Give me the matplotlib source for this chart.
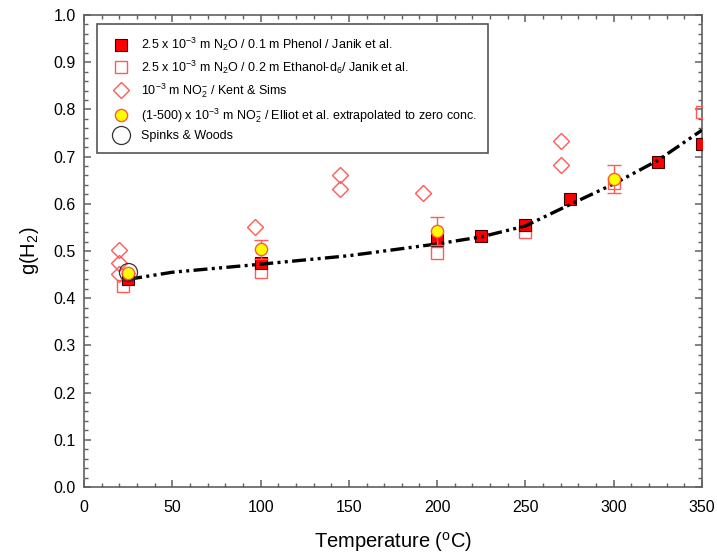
import matplotlib
matplotlib.use("Agg")
import matplotlib.pyplot as plt
from matplotlib.lines import Line2D
from matplotlib.ticker import MultipleLocator

plt.rcParams['font.family'] = ['Liberation Sans', 'DejaVu Sans']
plt.rcParams['mathtext.fontset'] = 'custom'
plt.rcParams['mathtext.rm'] = 'Liberation Sans'
plt.rcParams['mathtext.it'] = 'Liberation Sans:italic'
plt.rcParams['mathtext.default'] = 'regular'

# Janik et al., phenol
phenol_T = [25, 100, 200, 225, 250, 275, 325, 350]
phenol_g = [0.44, 0.474, 0.523, 0.532, 0.555, 0.610, 0.688, 0.727]

# Janik et al., ethanol-d6
ethanol_T = [22, 100, 200, 250, 300, 350]
ethanol_g = [0.426, 0.456, 0.496, 0.540, 0.645, 0.794]

# Kent & Sims
kent_T = [20, 20, 20, 97, 145, 145, 192, 270, 270]
kent_g = [0.502, 0.474, 0.451, 0.551, 0.662, 0.631, 0.622, 0.732, 0.682]

# Elliot et al. extrapolated
elliot_T = [25, 100, 200, 300]
elliot_g = [0.453, 0.504, 0.543, 0.653]
elliot_err = [0.0, 0.02, 0.03, 0.03]

# Spinks & Woods
spinks_T = [25]
spinks_g = [0.455]

# fitted curve
fit_T = [25, 50, 100, 150, 200, 225, 250, 275, 300, 325, 350]
fit_g = [0.440, 0.455, 0.472, 0.490, 0.515, 0.530, 0.553, 0.598, 0.642, 0.692, 0.756]

labels = ['2.5 x 10$^{-3}$ m N$_2$O / 0.1 m Phenol / Janik et al.',
          '2.5 x 10$^{-3}$ m N$_2$O / 0.2 m Ethanol-d$_6$/ Janik et al.',
          '10$^{-3}$ m NO$_2^{-}$ / Kent & Sims',
          '(1-500) x 10$^{-3}$ m NO$_2^{-}$ / Elliot et al. extrapolated to zero conc.',
          'Spinks & Woods']

fig = plt.figure(figsize=(7.17, 5.55), dpi=100)
ax = fig.add_axes([0.1172, 0.1225, 0.8618, 0.8505])

lred = '#ff5a5a'

h_kent, = ax.plot(kent_T, kent_g, 'D', ms=7.8, mfc='none', mec=lred, mew=1.0, zorder=3)
h_eth, = ax.plot(ethanol_T, ethanol_g, 's', ms=8.4, mfc='none', mec=lred, mew=1.0, zorder=3)
h_phen, = ax.plot(phenol_T, phenol_g, 's', ms=8.2, mfc='#ff0000', mec='#3a0000', mew=0.8,
                  zorder=4)
ax.plot(fit_T, fit_g, color='black', lw=2.4, dashes=(4.2, 1.3, 0.9, 1.3, 0.9, 1.3), zorder=5)
ax.errorbar(elliot_T, elliot_g, yerr=elliot_err, fmt='o', ms=8.8, mfc='#ffff00',
            mec='#ff5a30', mew=1.0, ecolor=lred, elinewidth=1.0, capsize=5, zorder=6)
h_spk, = ax.plot(spinks_T, spinks_g, 'o', ms=13, mfc='none', mec='#333333', mew=0.9, zorder=7)
h_ell = Line2D([], [], ls='none', marker='o', ms=8.8, mfc='#ffff00', mec='#ff5a30', mew=1.0)

ax.set_xlim(0, 350)
ax.set_ylim(0, 1.0)
ax.xaxis.set_major_locator(MultipleLocator(50))
ax.xaxis.set_minor_locator(MultipleLocator(10))
ax.yaxis.set_major_locator(MultipleLocator(0.1))
ax.yaxis.set_minor_locator(MultipleLocator(0.02))
ax.yaxis.set_major_formatter(plt.FormatStrFormatter('%.1f'))

spine_c = '#606060'
for s in ax.spines.values():
    s.set_color(spine_c)
    s.set_linewidth(1.2)
ax.tick_params(which='both', direction='in', top=True, right=True,
               color=spine_c, labelsize=11.5)
ax.tick_params(which='major', length=5, width=1.1, pad=6)
ax.tick_params(axis='x', which='major', pad=9)
ax.tick_params(which='minor', length=3, width=1.0)

ax.set_xlabel('Temperature ($^{o}$C)', fontsize=14.5, labelpad=11)
ax.set_ylabel('g(H$_2$)', fontsize=14.5, labelpad=9)

leg = ax.legend([h_phen, h_eth, h_kent, h_ell, h_spk], labels, loc='upper left',
                bbox_to_anchor=(0.021, 0.98), borderaxespad=0, fontsize=9, numpoints=1,
                fancybox=False, edgecolor='#555555', framealpha=1,
                handletextpad=0.6, labelspacing=0.45, borderpad=0.9)
leg.get_frame().set_linewidth(1.2)

fig.savefig('out.png', dpi=100)
